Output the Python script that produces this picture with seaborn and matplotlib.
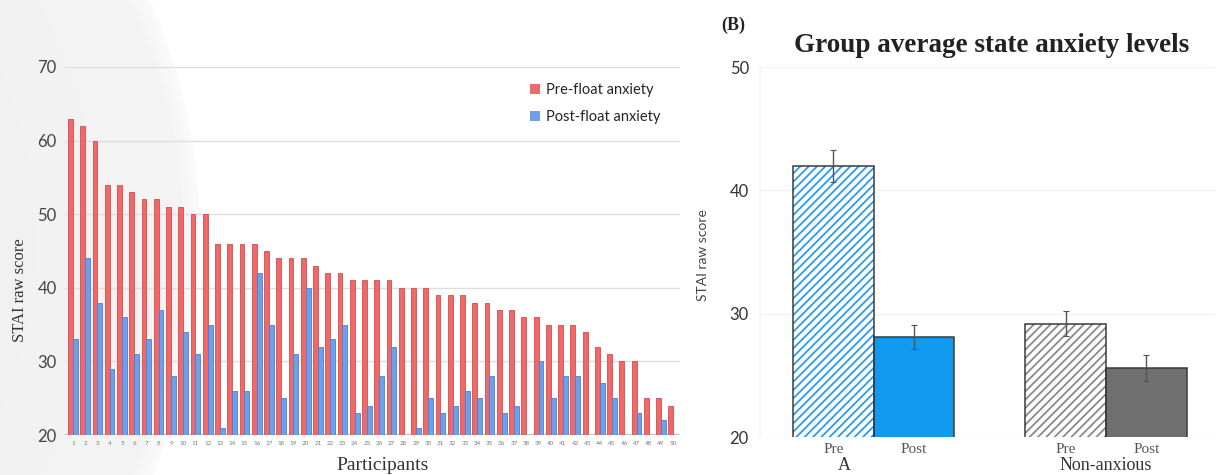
import numpy as np
import pandas as pd
import matplotlib
matplotlib.use("Agg")
import matplotlib.pyplot as plt
import seaborn as sns

# Panel A: raw scores per participant
participants = [str(i) for i in range(1, 51)]
pre_float = [63, 62, 60, 54, 54, 53, 52, 52, 51, 51, 50, 50, 46, 46, 46, 46, 45, 44, 44, 44,
             43, 42, 42, 41, 41, 41, 41, 40, 40, 40, 39, 39, 39, 38, 38, 37, 37, 36, 36, 35,
             35, 35, 34, 32, 31, 30, 30, 25, 25, 24]
post_float = [33, 44, 38, 29, 36, 31, 33, 37, 28, 34, 31, 35, 21, 26, 26, 42, 35, 25, 31, 40,
              32, 33, 35, 23, 24, 28, 32, 20, 21, 25, 23, 24, 26, 25, 28, 23, 24, 20, 30, 25,
              28, 28, 20, 27, 25, 20, 23, 20, 22, 20]
series_names = ["Pre-float anxiety", "Post-float anxiety"]

# Panel B: group averages
groups = ["A", "Non-anxious"]
phases = ["Pre", "Post"]
mean_pre = [42.0, 29.2]
mean_post = [28.1, 25.6]
err_pre = [1.3, 1.0]
err_post = [1.0, 1.05]

sns.set_theme(style="white")
plt.rcParams["font.family"] = ["Lato", "DejaVu Sans"]
plt.rcParams["hatch.linewidth"] = 1.3
SERIF = ["Liberation Serif", "DejaVu Serif"]

W, H = 1219, 475
fig = plt.figure(figsize=(W / 100, H / 100), dpi=100)


def fx(px):
    return px / W


def fy(py):
    return 1 - py / H


# soft grey slide background on the left
bg = fig.add_axes([0, 0, 1, 1], zorder=-5)
yy, xx = np.mgrid[0:H, 0:W]
d = np.hypot(xx + 400, yy - 240)
img = np.where(d < 600, 0.92 + 0.035 * d / 600, 1.0)
edge = np.clip((d - 580) / 35, 0, 1)
img = img * (1 - edge) + 1.0 * edge
bg.imshow(img, cmap="gray", vmin=0, vmax=1, aspect="auto", interpolation="bilinear")
bg.axis("off")

# ---- left panel
df1 = pd.DataFrame({
    "Participant": participants * 2,
    "Score": pre_float + post_float,
    "Phase": [series_names[0]] * 50 + [series_names[1]] * 50,
})
ax1 = fig.add_axes([fx(65), fy(435), fx(680) - fx(65), (435 - 67) / H])
ax1.patch.set_alpha(0)
sns.barplot(data=df1, x="Participant", y="Score", hue="Phase",
            palette=["#ee6a6a", "#6e9fe8"], saturation=1, width=0.78,
            errorbar=None, ax=ax1, edgecolor=None, linewidth=0)
for cont, ec in zip(list(ax1.containers), ["#d84a4a", "#4a80d6"]):
    for bar in cont:
        bar.set_edgecolor(ec)
        bar.set_linewidth(0.6)
ax1.set_ylim(20, 70)
ax1.set_xlim(-0.65, 49.55)
ax1.set_yticks(range(20, 71, 10))
ax1.yaxis.grid(True, color="#dedede", lw=1)
ax1.set_axisbelow(True)
for s in ax1.spines.values():
    s.set_visible(False)
ax1.axhline(20, color="#b8b8b8", lw=1.3, zorder=0)
ax1.tick_params(axis="y", labelsize=12, labelcolor="#444", length=0, pad=6)
ax1.tick_params(axis="x", labelsize=4.5, labelcolor="#777", length=0, pad=4)
ax1.set_xlabel("")
ax1.set_ylabel("")
h, l = ax1.get_legend_handles_labels()
ax1.legend(h, l, loc="upper left", bbox_to_anchor=(fx(517), fy(70)),
           bbox_transform=fig.transFigure, frameon=False, fontsize=10.5,
           handlelength=0.7, handleheight=0.7, handletextpad=0.4, labelspacing=0.9)
fig.text(fx(383), fy(465), "Participants", ha="center", va="center",
         fontsize=14, family=SERIF, color="#333")
fig.text(fx(20), fy(290), "STAI raw score", ha="center", va="center", rotation=90,
         fontsize=12, family=SERIF, color="#333")

# ---- right panel
df2 = pd.DataFrame({
    "Group": groups * 2,
    "Mean": mean_pre + mean_post,
    "Phase": [phases[0]] * 2 + [phases[1]] * 2,
})
ax2 = fig.add_axes([fx(760), fy(437), fx(1215) - fx(760), (437 - 67) / H])
ax2.patch.set_alpha(0)
sns.barplot(data=df2, x="Group", y="Mean", hue="Phase", width=0.695,
            errorbar=None, ax=ax2, legend=False, saturation=1)
group_cols = ["#1199f0", "#707070"]
hatch_cols = ["#2a9cf0", "#8a8a8a"]
errs = [err_pre, err_post]
bar_conts = list(ax2.containers)
for hi, cont in enumerate(bar_conts):
    xs, ys = [], []
    for gi, bar in enumerate(cont):
        if hi == 0:
            bar.set_facecolor("white")
            bar.set_edgecolor(hatch_cols[gi])
            bar.set_hatch("////")
            bar.set_linewidth(0)
        else:
            bar.set_facecolor(group_cols[gi])
            bar.set_linewidth(0)
        ax2.add_patch(plt.Rectangle(bar.get_xy(), bar.get_width(), bar.get_height(),
                                    fill=False, ec="#3a3a3a", lw=1.1, zorder=3))
        xs.append(bar.get_x() + bar.get_width() / 2)
        ys.append(bar.get_y() + bar.get_height())
        ax2.text(xs[-1], -0.035, phases[hi], transform=ax2.get_xaxis_transform(),
                 ha="center", va="center", fontsize=11, family=SERIF, color="#555")
    ax2.errorbar(xs, ys, yerr=errs[hi], fmt="none", ecolor="#555", elinewidth=1,
                 capsize=2.5, capthick=0.8, zorder=4)
ax2.set_ylim(20, 50)
ax2.set_xlim(-0.49, 1.47)
ax2.set_yticks([20, 30, 40, 50])
ax2.set_xticks([])
ax2.yaxis.grid(True, color="#f2f2f2", lw=1)
ax2.set_axisbelow(True)
for s in ax2.spines.values():
    s.set_visible(False)
ax2.spines["left"].set_visible(True)
ax2.spines["left"].set_color("#f4f4f4")
ax2.tick_params(axis="y", labelsize=12, labelcolor="#333", length=0, pad=8)
ax2.set_xlabel("")
ax2.set_ylabel("")
ax2.text(-0.126, -0.078, groups[0], transform=ax2.get_xaxis_transform(),
         ha="center", va="center", fontsize=13, family=SERIF, color="#333")
ax2.text(1, -0.078, groups[1], transform=ax2.get_xaxis_transform(),
         ha="center", va="center", fontsize=13, family=SERIF, color="#333")

fig.text(fx(992), fy(45), "Group average state anxiety levels", ha="center", va="center",
         fontsize=19.5, fontweight="bold", family=SERIF, color="#222")
fig.text(fx(721), fy(25), "(B)", ha="left", va="center", fontsize=13,
         fontweight="bold", family=SERIF, color="#222")
fig.text(fx(703), fy(255), "STAI raw score", ha="center", va="center", rotation=90,
         fontsize=10, color="#444")

fig.savefig("out.png", dpi=100)
